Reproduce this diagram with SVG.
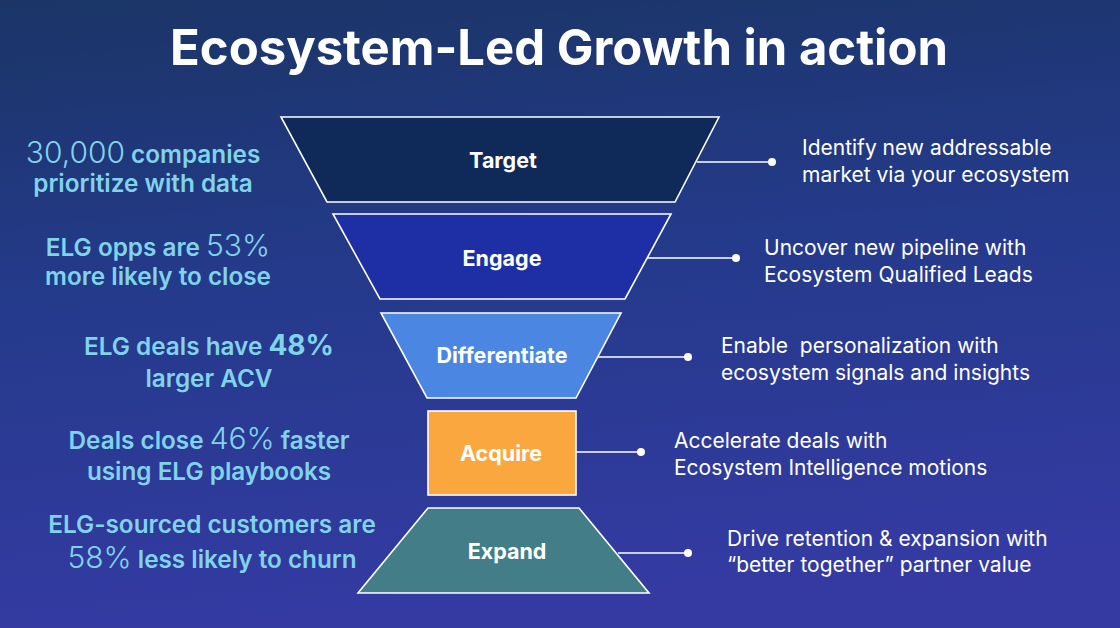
<svg xmlns="http://www.w3.org/2000/svg" width="1120" height="628" viewBox="0 0 1120 628">
  <defs>
    <linearGradient id="bg" x1="0" y1="0" x2="0.15" y2="1">
      <stop offset="0" stop-color="#1a3566"/>
      <stop offset="0.45" stop-color="#243a8a"/>
      <stop offset="1" stop-color="#343aa2"/>
    </linearGradient>
  </defs>
  <style>
    .title { font-family: Inter, "Liberation Sans", sans-serif; font-weight: 700; font-size: 49px; fill: #ffffff; }
    .stage { stroke: #ffffff; stroke-width: 1.6; stroke-linejoin: miter; }
    .label { font-family: Inter, "Liberation Sans", sans-serif; font-weight: 700; font-size: 21.5px; fill: #ffffff; text-anchor: middle; }
    .stat { font-family: Inter, "Liberation Sans", sans-serif; font-weight: 600; font-size: 24.3px; fill: #80d4ea; text-anchor: middle; }
    .num { font-weight: 300; font-size: 30px; }
    .numb { font-weight: 700; font-size: 28px; }
    .desc { font-family: Inter, "Liberation Sans", sans-serif; font-weight: 400; font-size: 21px; fill: #ffffff; }
    .conn { stroke: #ffffff; stroke-width: 1.5; fill: none; }
    .dot { fill: #ffffff; }
  </style>
  <rect x="0" y="0" width="1120" height="628" fill="url(#bg)"/>

  <text class="title" x="559" y="65" text-anchor="middle">Ecosystem-Led Growth in action</text>

  <g id="stats">
    <text class="stat" x="143" y="163"><tspan class="num">30,000</tspan> companies</text>
    <text class="stat" x="143" y="192">prioritize with data</text>
    <text class="stat" x="158" y="256">ELG opps are <tspan class="num">53%</tspan></text>
    <text class="stat" x="158" y="285">more likely to close</text>
    <text class="stat" x="209" y="355">ELG deals have <tspan class="numb">48%</tspan></text>
    <text class="stat" x="209" y="387">larger ACV</text>
    <text class="stat" x="209" y="449">Deals close <tspan class="num">46%</tspan> faster</text>
    <text class="stat" x="209" y="480">using ELG playbooks</text>
    <text class="stat" x="212" y="533">ELG-sourced customers are</text>
    <text class="stat" x="212" y="568"><tspan class="num">58%</tspan> less likely to churn</text>
  </g>

  <g id="connectors">
    <line class="conn" x1="697" y1="162" x2="772" y2="162"/>
    <circle class="dot" cx="772" cy="162" r="4"/>
    <line class="conn" x1="647" y1="258" x2="736" y2="258"/>
    <circle class="dot" cx="736" cy="258" r="4"/>
    <line class="conn" x1="598" y1="357" x2="688" y2="357"/>
    <circle class="dot" cx="688" cy="357" r="4"/>
    <line class="conn" x1="576" y1="452" x2="641" y2="452"/>
    <circle class="dot" cx="641" cy="452" r="4"/>
    <line class="conn" x1="618" y1="553" x2="688" y2="553"/>
    <circle class="dot" cx="688" cy="553" r="4"/>
  </g>

  <g id="target">
    <polygon class="stage" points="281,117 719,117 675,202 327,202" fill="#0f2a58"/>
    <text class="label" x="503" y="168">Target</text>
  </g>
  <g id="engage">
    <polygon class="stage" points="333,214 671,214 625,299 380,299" fill="#1e2fa6"/>
    <text class="label" x="502" y="266">Engage</text>
  </g>
  <g id="differentiate">
    <polygon class="stage" points="381,313 621,313 576,398 427,398" fill="#4a86e2"/>
    <text class="label" x="502" y="363">Differentiate</text>
  </g>
  <g id="acquire">
    <rect class="stage" x="428" y="411" width="148" height="84" fill="#f9a73e"/>
    <text class="label" x="501" y="461">Acquire</text>
  </g>
  <g id="expand">
    <polygon class="stage" points="428,508 579,508 649,593 358,593" fill="#427d88"/>
    <text class="label" x="507" y="559">Expand</text>
  </g>

  <g id="descriptions">
    <text class="desc" x="802" y="155">Identify new addressable</text>
    <text class="desc" x="802" y="182">market via your ecosystem</text>
    <text class="desc" x="764" y="255">Uncover new pipeline with</text>
    <text class="desc" x="764" y="282">Ecosystem Qualified Leads</text>
    <text class="desc" x="721" y="353" xml:space="preserve">Enable  personalization with</text>
    <text class="desc" x="721" y="380">ecosystem signals and insights</text>
    <text class="desc" x="674" y="448">Accelerate deals with</text>
    <text class="desc" x="674" y="475">Ecosystem Intelligence motions</text>
    <text class="desc" x="727" y="546">Drive retention &amp; expansion with</text>
    <text class="desc" x="727" y="572">“better together” partner value</text>
  </g>
</svg>
